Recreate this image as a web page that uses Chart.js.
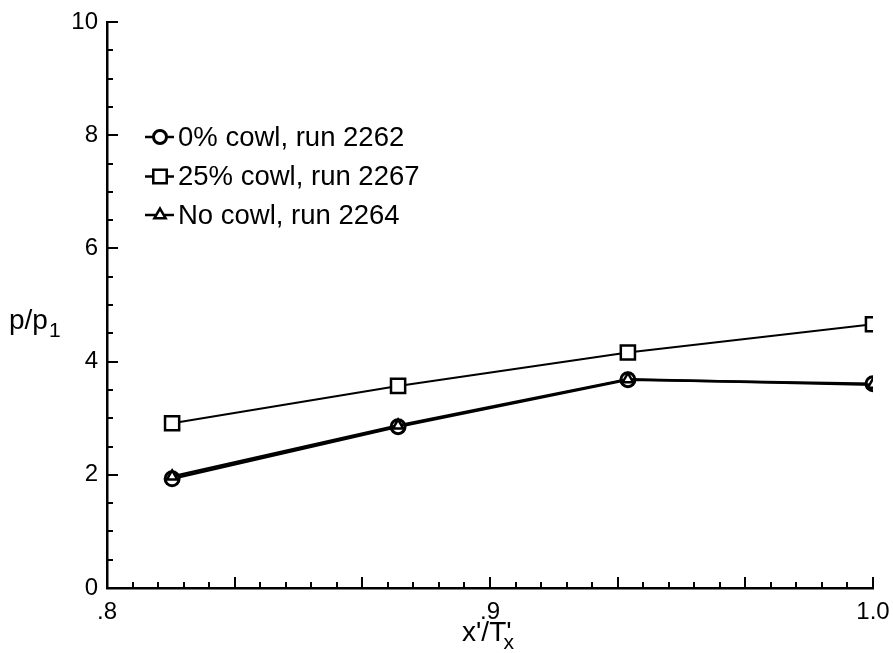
<!DOCTYPE html>
<html>
<head>
<meta charset="utf-8">
<script src="https://cdn.jsdelivr.net/npm/chart.js@4/dist/chart.umd.min.js"></script>
<style>
html,body{margin:0;padding:0;background:#fff;overflow:hidden;}
canvas{display:block;}
</style>
</head>
<body>
<canvas id="c" width="893" height="653" style="width:893px;height:653px;"></canvas>
<script>
// ---- data ----
const xPositions = [0.817, 0.876, 0.936, 1.0];
const cowl0 = [1.93, 2.85, 3.68, 3.61];
const cowl25 = [2.91, 3.57, 4.16, 4.66];
const noCowl = [1.97, 2.87, 3.69, 3.59];
const seriesLabels = ['0% cowl, run 2262', '25% cowl, run 2267', 'No cowl, run 2264'];
const xTickValues = [0.8, 0.9, 1.0];
const xTickLabels = ['.8', '.9', '1.0'];
const yTickValues = [0, 2, 4, 6, 8, 10];
const yTickLabels = ['0', '2', '4', '6', '8', '10'];
const xMinorStep = 1 / 150;
const yMinorStep = 0.5;

const FONT = '"Liberation Sans", Arial, Helvetica, sans-serif';
const pts = arr => arr.map((v, i) => ({x: xPositions[i], y: v}));

function drawMarker(ctx, style, x, y, r, bw) {
  ctx.save();
  ctx.fillStyle = '#fff';
  ctx.strokeStyle = '#000';
  ctx.lineWidth = bw;
  ctx.beginPath();
  if (style === 'circle') {
    ctx.arc(x, y, r, 0, Math.PI * 2);
  } else if (style === 'rect') {
    const s = Math.SQRT1_2 * r;
    ctx.rect(x - s, y - s, 2 * s, 2 * s);
  } else {
    let a = 0;
    ctx.moveTo(x + Math.sin(a) * r, y - Math.cos(a) * r);
    a += 2 * Math.PI / 3;
    ctx.lineTo(x + Math.sin(a) * r, y - Math.cos(a) * r);
    a += 2 * Math.PI / 3;
    ctx.lineTo(x + Math.sin(a) * r, y - Math.cos(a) * r);
    ctx.closePath();
  }
  ctx.fill(); ctx.stroke();
  ctx.restore();
}

const inTicks = {
  id: 'inTicks',
  afterDraw(chart) {
    const {ctx, scales: {x, y}} = chart;
    const bottom = y.getPixelForValue(0), left = x.getPixelForValue(0.8);
    ctx.save();
    ctx.strokeStyle = '#000';
    ctx.lineWidth = 2;
    ctx.beginPath();
    for (let i = 1; i <= 30; i++) {
      const v = 0.8 + i * xMinorStep;
      const px = Math.round(x.getPixelForValue(v));
      const len = (i % 5 === 0) ? 11 : 6;
      ctx.moveTo(px, bottom); ctx.lineTo(px, bottom - len);
    }
    for (let i = 1; i <= 20; i++) {
      const v = i * yMinorStep;
      const py = Math.round(y.getPixelForValue(v));
      const len = (i % 4 === 0) ? 11 : 6;
      ctx.moveTo(left, py); ctx.lineTo(left + len, py);
    }
    ctx.stroke();

    // axis titles
    ctx.fillStyle = '#000';
    ctx.textBaseline = 'alphabetic';
    ctx.textAlign = 'left';
    ctx.font = '28px ' + FONT;
    const t1 = "x'/T'";
    const w1 = ctx.measureText(t1).width;
    const cx = (x.left + x.right) / 2;
    const tx = cx - 28;
    ctx.fillText(t1, tx, 641);
    ctx.font = '21px ' + FONT;
    ctx.fillText('x', tx + w1 - 8, 649);

    ctx.font = '28px ' + FONT;
    ctx.fillText('p/p', 9, 329);
    const w2 = ctx.measureText('p/p').width;
    ctx.font = '21px ' + FONT;
    ctx.fillText('1', 9 + w2 + 1, 337);

    // legend
    const rows = [137, 176.5, 215];
    chart.data.datasets.forEach((ds, i) => {
      const yy = rows[i];
      ctx.strokeStyle = '#000';
      ctx.lineWidth = 2.5;
      ctx.beginPath(); ctx.moveTo(145, yy); ctx.lineTo(174, yy); ctx.stroke();
      drawMarker(ctx, ds.pointStyle, 160, yy, ds.pointStyle === 'rect' ? 9.5 : 6.5, ds.pointBorderWidth);
      ctx.fillStyle = '#000';
      ctx.font = '27.5px ' + FONT;
      ctx.textBaseline = 'middle';
      ctx.fillText(ds.label, 178, yy + 1);
    });
    ctx.restore();
  }
};

new Chart(document.getElementById('c'), {
  type: 'line',
  data: {
    datasets: [
      {label: seriesLabels[0], data: pts(cowl0), borderColor: '#000', borderWidth: 2.5,
       pointStyle: 'circle', pointRadius: 7, pointBorderWidth: 3, order: 1,
       pointBackgroundColor: '#fff', pointBorderColor: '#000', tension: 0},
      {label: seriesLabels[1], data: pts(cowl25), borderColor: '#000', borderWidth: 2,
       pointStyle: 'rect', pointRadius: 10, pointBorderWidth: 2.5, order: 2,
       pointBackgroundColor: '#fff', pointBorderColor: '#000', tension: 0},
      {label: seriesLabels[2], data: pts(noCowl), borderColor: '#000', borderWidth: 2.5,
       pointStyle: 'triangle', pointRadius: 6, pointBorderWidth: 2.5, order: 0,
       pointBackgroundColor: '#fff', pointBorderColor: '#000', tension: 0}
    ]
  },
  options: {
    responsive: false,
    devicePixelRatio: 1,
    animation: false,
    layout: {padding: {top: 22, right: 20, left: 0, bottom: 0}},
    plugins: {legend: {display: false}, tooltip: {enabled: false}},
    scales: {
      x: {
        type: 'linear', min: 0.8, max: 1.0,
        afterFit: s => { s.height = 65; s.paddingRight = 0; s.paddingLeft = 0; },
        afterBuildTicks: s => { s.ticks = xTickValues.map(v => ({value: v})); },
        grid: {display: true, drawOnChartArea: false, drawTicks: false},
        border: {display: true, color: '#000', width: 2.5},
        ticks: {
          padding: 10, color: '#000', font: {family: FONT, size: 24}, maxRotation: 0,
          callback: (v, i) => xTickLabels[i]
        }
      },
      y: {
        type: 'linear', min: 0, max: 10,
        afterFit: s => { s.width = 107; s.paddingTop = 0; s.paddingBottom = 0; },
        afterBuildTicks: s => { s.ticks = yTickValues.map(v => ({value: v})); },
        grid: {display: true, drawOnChartArea: false, drawTicks: false},
        border: {display: true, color: '#000', width: 2.5},
        ticks: {
          padding: 9, color: '#000', font: {family: FONT, size: 24},
          callback: (v, i) => yTickLabels[i]
        }
      }
    }
  },
  plugins: [inTicks]
});
</script>
</body>
</html>
